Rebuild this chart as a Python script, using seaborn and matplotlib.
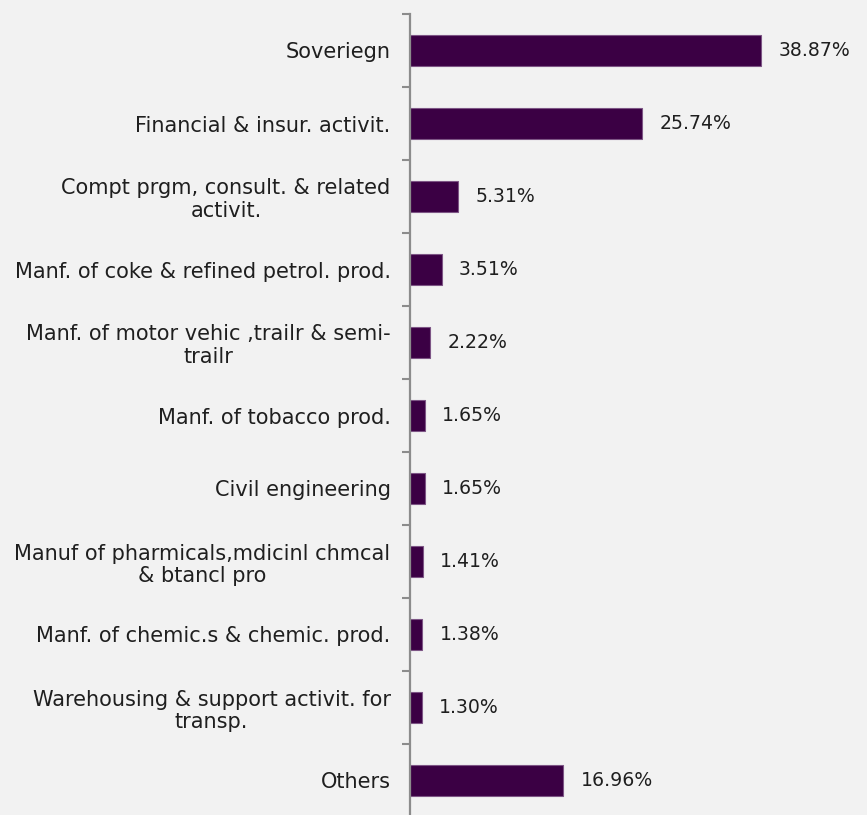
import matplotlib
matplotlib.use("Agg")
import matplotlib.pyplot as plt
from matplotlib.ticker import FixedLocator
import seaborn as sns
import pandas as pd

sectors = [
    "Soveriegn",
    "Financial & insur. activit.",
    "Compt prgm, consult. & related\nactivit.",
    "Manf. of coke & refined petrol. prod.",
    "Manf. of motor vehic ,trailr & semi-\ntrailr",
    "Manf. of tobacco prod.",
    "Civil engineering",
    "Manuf of pharmicals,mdicinl chmcal\n& btancl pro",
    "Manf. of chemic.s & chemic. prod.",
    "Warehousing & support activit. for\ntransp.",
    "Others",
]
shares = [38.87, 25.74, 5.31, 3.51, 2.22, 1.65, 1.65, 1.41, 1.38, 1.30, 16.96]

df = pd.DataFrame({"sector": sectors, "share": shares})

sns.set_style("white")
plt.rcParams["font.family"] = ["DejaVu Sans"]

bg = "#f2f2f2"
txt = "#1f1f1f"
fig = plt.figure(figsize=(8.67, 8.15), dpi=100, facecolor=bg)
ax = fig.add_axes([410 / 867, 1 - 817 / 815, 1 - 410 / 867, 803 / 815])
ax.set_facecolor(bg)

sns.barplot(data=df, y="sector", x="share", orient="h", ax=ax,
            color="#3b0044", saturation=1, width=0.43,
            edgecolor="#7d5585", linewidth=0.8)

ax.set_xlim(0, 50.6)
ax.set_ylim(len(sectors) - 0.5, -0.5)
ax.set_xlabel("")
ax.set_ylabel("")
ax.set_xticks([])

ax.set_yticks(range(len(sectors)))
ax.set_yticklabels(sectors, multialignment="center", fontsize=15,
                   color=txt, linespacing=1.17)
ax.tick_params(axis="y", which="major", left=False, length=0, pad=14)
ax.yaxis.set_minor_locator(FixedLocator([i - 0.5 for i in range(len(sectors) + 1)]))
ax.tick_params(axis="y", which="minor", left=True, length=6, width=1.5,
               color="#8c8c8c", direction="out")

for s in ["top", "right", "bottom"]:
    ax.spines[s].set_visible(False)
ax.spines["left"].set_color("#8c8c8c")
ax.spines["left"].set_linewidth(1.6)

for i, v in enumerate(shares):
    ax.annotate(f"{v:.2f}%", xy=(v, i), xytext=(12.5, 0), textcoords="offset points",
                va="center", ha="left", fontsize=13.6, color=txt)

fig.savefig("out.png", dpi=100, facecolor=bg)
